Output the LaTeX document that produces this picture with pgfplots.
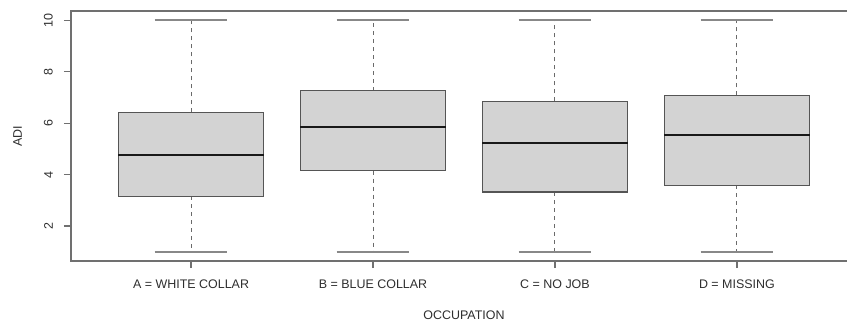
\documentclass[border=0pt]{standalone}
\usepackage{pgfplots}
\pgfplotsset{compat=1.18}
\usepgfplotslibrary{statistics}
\usepackage{fontspec}
\setmainfont{Liberation Sans}
\definecolor{boxfill}{HTML}{D3D3D3}
\definecolor{lc}{HTML}{555555}
\definecolor{wc}{HTML}{6A6A6A}
\definecolor{capc}{HTML}{888888}
\definecolor{framec}{HTML}{707070}
\definecolor{txt}{HTML}{2E2E2E}
\begin{document}
\begin{tikzpicture}
\begin{axis}[
  name=ax, at={(0,0)}, anchor=south west,
  scale only axis, width=786bp, height=250bp,
  xmin=0.34, xmax=4.66, ymin=0.64, ymax=10.36,
  xtick={1,2,3,4},
  xticklabels={A = WHITE COLLAR, B = BLUE COLLAR, C = NO JOB, D = MISSING},
  ytick={2,4,6,8,10},
  tick pos=left, tick align=outside, major tick length=7bp,
  axis line style={framec, line width=1.2bp},
  every tick/.style={framec, line width=1.2bp},
  /pgf/number format/assume math mode=true,
  every tick label/.append style={font=\fontsize{12.5}{15}\selectfont, text=txt},
  yticklabel style={xshift=-11bp, rotate=90, anchor=south, inner sep=0pt},
  xticklabel style={anchor=north, inner sep=0pt, yshift=-12bp},
  xlabel={OCCUPATION}, ylabel={ADI},
  every axis x label/.style={at={(axis description cs:0.5,-0.216)}, anchor=center, font=\fontsize{12.5}{15}\selectfont, text=txt},
  every axis y label/.style={at={(axis description cs:-0.068,0.5)}, rotate=90, anchor=center, font=\fontsize{12.5}{15}\selectfont, text=txt},
  boxplot/draw direction=y,
  boxplot/box extend=0.8,
  boxplot/whisker extend=0.4,
  boxplot/every box/.style={draw=lc, fill=boxfill, line width=1.2bp},
  boxplot/every median/.style={black!90, line width=2.4bp},
  boxplot/draw/lower whisker/.code={%
    \draw[wc, line width=1bp, dash pattern=on 4bp off 4bp]
      (boxplot whisker cs:\pgfplotsboxplotvalue{lower quartile},0.5) --
      (boxplot whisker cs:\pgfplotsboxplotvalue{lower whisker},0.5);
    \draw[capc, line width=1.7bp]
      (boxplot whisker cs:\pgfplotsboxplotvalue{lower whisker},0) --
      (boxplot whisker cs:\pgfplotsboxplotvalue{lower whisker},1);
  },
  boxplot/draw/upper whisker/.code={%
    \draw[wc, line width=1bp, dash pattern=on 4bp off 4bp]
      (boxplot whisker cs:\pgfplotsboxplotvalue{upper quartile},0.5) --
      (boxplot whisker cs:\pgfplotsboxplotvalue{upper whisker},0.5);
    \draw[capc, line width=1.7bp]
      (boxplot whisker cs:\pgfplotsboxplotvalue{upper whisker},0) --
      (boxplot whisker cs:\pgfplotsboxplotvalue{upper whisker},1);
  },
]
\addplot+[boxplot prepared={draw position=1, lower whisker=1, lower quartile=3.15, median=4.77, upper quartile=6.42, upper whisker=10}, mark=none] coordinates {};
\addplot+[boxplot prepared={draw position=2, lower whisker=1, lower quartile=4.15, median=5.84, upper quartile=7.26, upper whisker=10}, mark=none] coordinates {};
\addplot+[boxplot prepared={draw position=3, lower whisker=1, lower quartile=3.32, median=5.23, upper quartile=6.85, upper whisker=10}, mark=none] coordinates {};
\addplot+[boxplot prepared={draw position=4, lower whisker=1, lower quartile=3.58, median=5.55, upper quartile=7.08, upper whisker=10}, mark=none] coordinates {};
\end{axis}
\pgfresetboundingbox
\path[use as bounding box] (ax.south west) ++(-71bp,-62bp) rectangle ++(847bp,323bp);
\end{tikzpicture}
\end{document}
